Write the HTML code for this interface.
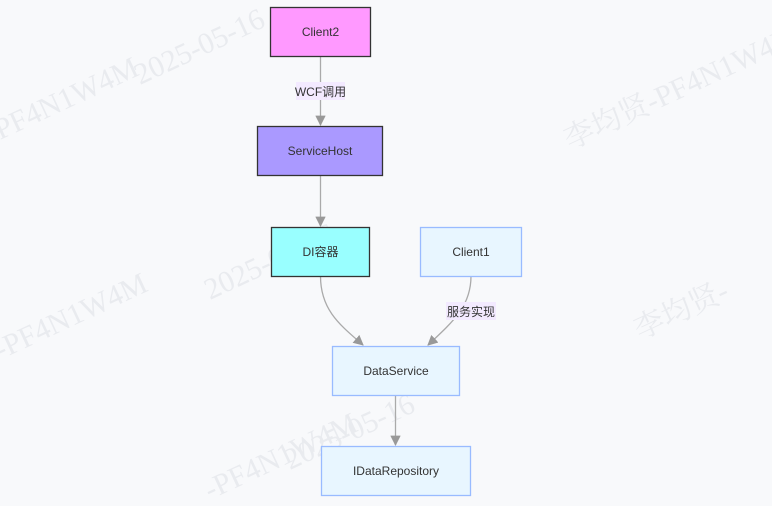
<!DOCTYPE html>
<html><head><meta charset="utf-8"><style>
html,body{margin:0;padding:0;background:#f8f9fb;}
svg{display:block;font-family:"Liberation Sans","Noto Sans CJK SC",sans-serif;}
</style></head><body>
<svg width="772" height="506" viewBox="0 0 772 506" xmlns="http://www.w3.org/2000/svg">
<rect width="772" height="506" fill="#f8f9fb"/>
<g fill="#e9ebef" font-family="Liberation Serif,Noto Serif CJK SC,serif" font-size="30">
<text transform="translate(140,85) rotate(-25)">2025-05-16</text>
<text transform="translate(0,140) rotate(-25)">PF4N1W4M</text>
<text transform="translate(570,150) rotate(-25)">李均贤-PF4N1W4M</text>
<text transform="translate(210,300) rotate(-25)">2025-05-16</text>
<text transform="translate(0,360) rotate(-25)">-PF4N1W4M</text>
<text transform="translate(640,340) rotate(-25)">李均贤-</text>
<text transform="translate(290,470) rotate(-25)">2025-05-16</text>
<text transform="translate(210,500) rotate(-25)">-PF4N1W4M</text>
</g>
<defs><marker id="a" viewBox="0 0 10 10" refX="9" refY="5" markerWidth="8" markerHeight="8" orient="auto"><path d="M0,0L10,5L0,10z" fill="#999"/></marker></defs>
<g stroke="#aaa" stroke-width="1.3" fill="none" marker-end="url(#a)">
<path d="M320.5,56V125"/>
<path d="M320.5,175V226"/>
<path d="M320.5,276C320.5,310 340,325 363,345"/>
<path d="M471,276C471,305 455,320 428,345"/>
<path d="M395.5,395V445"/>
</g>
<rect x="296" y="82" width="49" height="18" fill="#f3eaff"/>
<text x="320.5" y="96" font-size="12" text-anchor="middle" fill="#333">WCF调用</text>
<rect x="446" y="302" width="50" height="18" fill="#f3eaff"/>
<text x="471" y="316" font-size="12" text-anchor="middle" fill="#333">服务实现</text>
<g font-size="12" text-anchor="middle" fill="#333">
<rect x="270.5" y="7.5" width="100" height="49" fill="#ff99ff" stroke="#333" stroke-width="1.3"/>
<text x="320.5" y="36">Client2</text>
<rect x="257.5" y="126.5" width="125" height="49" fill="#aa99ff" stroke="#333" stroke-width="1.3"/>
<text x="320" y="155">ServiceHost</text>
<rect x="271.5" y="227.5" width="98" height="49" fill="#99ffff" stroke="#333" stroke-width="1.3"/>
<text x="320.5" y="256">DI容器</text>
<rect x="420.5" y="227.5" width="101" height="49" fill="#e8f6ff" stroke="#99bbff" stroke-width="1.3"/>
<text x="471" y="256">Client1</text>
<rect x="332.5" y="346.5" width="127" height="49" fill="#e8f6ff" stroke="#99bbff" stroke-width="1.3"/>
<text x="396" y="375">DataService</text>
<rect x="321.5" y="446.5" width="149" height="49" fill="#e8f6ff" stroke="#99bbff" stroke-width="1.3"/>
<text x="396" y="475">IDataRepository</text>
</g>
</svg>
</body></html>
